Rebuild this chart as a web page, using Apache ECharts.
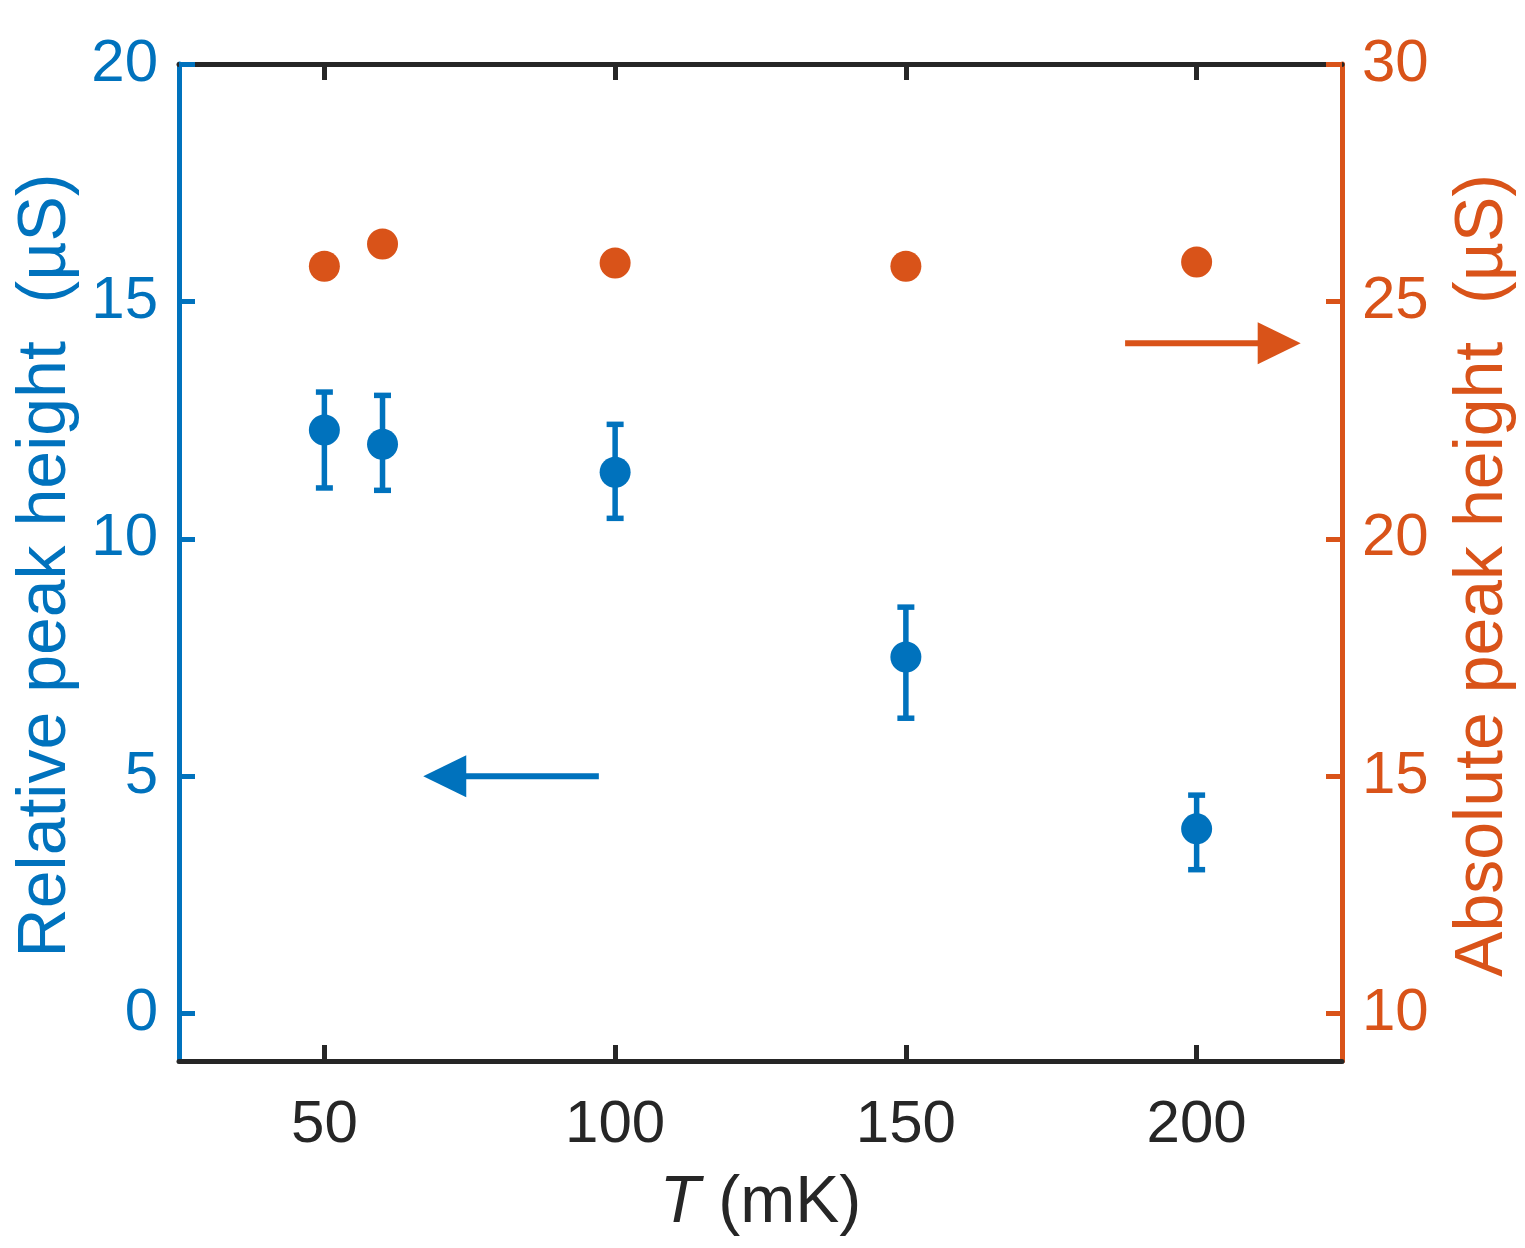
<!DOCTYPE html>
<html>
<head>
<meta charset="utf-8">
<script src="https://cdn.jsdelivr.net/npm/echarts@6/dist/echarts.min.js"></script>
<style>
html,body{margin:0;padding:0;background:#fff;}
#c{width:1525px;height:1248px;}
</style>
</head>
<body>
<div id="c"></div>
<script>
// ---- data ----
const temps = [50, 60, 100, 150, 200];
const relHeight = [12.29, 11.99, 11.40, 7.51, 3.89];
const relUpper = [13.09, 13.02, 12.41, 8.56, 4.60];
const relLower = [11.07, 11.02, 10.43, 6.22, 3.03];
const absHeight = [25.74, 26.21, 25.81, 25.74, 25.83];
const xTicks = [50, 100, 150, 200];
const yLeftTicks = [0, 5, 10, 15, 20];
const yRightTicks = [10, 15, 20, 25, 30];
// arrows: [xFrom, yFrom, xTo, yTo]
const blueArrow = [97.2, 5, 67.0, 5];      // left axis
const orangeArrow = [187.7, 24.12, 217.9, 24.12]; // right axis

const BLUE = '#0072BD', ORANGE = '#D95319', DARK = '#262626';
const FONT = 'Liberation Sans, Arial, Helvetica, sans-serif';

const chart = echarts.init(document.getElementById('c'), null, {renderer: 'canvas'});

function arrowRender(color) {
  return function (params, api) {
    const p1 = api.coord([api.value(0), api.value(1)]);
    const p2 = api.coord([api.value(2), api.value(3)]);
    const dx = p2[0] - p1[0], dy = p2[1] - p1[1];
    const len = Math.sqrt(dx * dx + dy * dy);
    const ux = dx / len, uy = dy / len;
    const headL = 43, headW = 21;
    const bx = p2[0] - ux * headL, by = p2[1] - uy * headL;
    return {
      type: 'group',
      children: [
        {type: 'line', shape: {x1: p1[0], y1: p1[1], x2: bx + ux * 2, y2: by + uy * 2},
         style: {stroke: color, lineWidth: 6}},
        {type: 'polygon', shape: {points: [[p2[0], p2[1]], [bx - uy * headW, by + ux * headW], [bx + uy * headW, by - ux * headW]]},
         style: {fill: color}}
      ]
    };
  };
}

const option = {
  animation: false,
  backgroundColor: '#fff',
  grid: {left: 179, right: 182, top: 64, bottom: 187, containLabel: false},
  xAxis: [
    {
      type: 'value', min: 25, max: 225, position: 'bottom',
      name: '{it|T} (mK)', nameLocation: 'middle', nameGap: 110,
      nameTextStyle: {color: DARK, fontSize: 66, fontFamily: FONT,
        rich: {it: {fontStyle: 'italic', fontSize: 66, fontFamily: FONT, color: DARK}}},
      axisLine: {show: true, onZero: false, lineStyle: {color: DARK, width: 5}},
      axisTick: {show: true, inside: true, length: 16, customValues: xTicks, lineStyle: {color: DARK, width: 5}},
      axisLabel: {show: true, customValues: xTicks, margin: 34, color: DARK, fontSize: 60, fontFamily: FONT},
      splitLine: {show: false}
    },
    {
      type: 'value', min: 25, max: 225, position: 'top',
      axisLine: {show: true, onZero: false, lineStyle: {color: DARK, width: 5}},
      axisTick: {show: true, inside: true, length: 16, customValues: xTicks, lineStyle: {color: DARK, width: 5}},
      axisLabel: {show: false},
      splitLine: {show: false}
    }
  ],
  yAxis: [
    {
      type: 'value', min: -1, max: 20, position: 'left',
      name: 'Relative peak height  (µS)', nameLocation: 'middle', nameGap: 92, nameRotate: 90,
      nameTextStyle: {color: BLUE, fontSize: 68, fontFamily: FONT, padding: [0, 6, 0, 0]},
      axisLine: {show: true, onZero: false, lineStyle: {color: BLUE, width: 5}},
      axisTick: {show: true, inside: true, length: 16, customValues: yLeftTicks, lineStyle: {color: BLUE, width: 5}},
      axisLabel: {show: true, customValues: yLeftTicks, margin: 21, color: BLUE, fontSize: 60, fontFamily: FONT},
      splitLine: {show: false}
    },
    {
      type: 'value', min: 9, max: 30, position: 'right',
      name: 'Absolute peak height  (µS)', nameLocation: 'middle', nameGap: 107, nameRotate: 90,
      nameTextStyle: {color: ORANGE, fontSize: 68, fontFamily: FONT, padding: [0, 26, 0, 0]},
      axisLine: {show: true, onZero: false, lineStyle: {color: ORANGE, width: 5}},
      axisTick: {show: true, inside: true, length: 16, customValues: yRightTicks, lineStyle: {color: ORANGE, width: 5}},
      axisLabel: {show: true, customValues: yRightTicks, margin: 20, color: ORANGE, fontSize: 60, fontFamily: FONT},
      splitLine: {show: false}
    }
  ],
  series: [
    {
      type: 'custom', name: 'err', xAxisIndex: 0, yAxisIndex: 0,
      data: temps.map((t, i) => [t, relLower[i], relUpper[i]]),
      renderItem: function (params, api) {
        const lo = api.coord([api.value(0), api.value(1)]);
        const hi = api.coord([api.value(0), api.value(2)]);
        const cw = 8.5;
        const st = {stroke: BLUE, lineWidth: 5.5};
        return {type: 'group', children: [
          {type: 'line', shape: {x1: lo[0], y1: lo[1], x2: hi[0], y2: hi[1]}, style: st},
          {type: 'line', shape: {x1: lo[0] - cw, y1: lo[1], x2: lo[0] + cw, y2: lo[1]}, style: st},
          {type: 'line', shape: {x1: hi[0] - cw, y1: hi[1], x2: hi[0] + cw, y2: hi[1]}, style: st}
        ]};
      },
      z: 2
    },
    {
      type: 'scatter', name: 'rel', xAxisIndex: 0, yAxisIndex: 0,
      data: temps.map((t, i) => [t, relHeight[i]]),
      symbol: 'circle', symbolSize: 31,
      itemStyle: {color: BLUE, opacity: 1}, z: 3
    },
    {
      type: 'scatter', name: 'abs', xAxisIndex: 0, yAxisIndex: 1,
      data: temps.map((t, i) => [t, absHeight[i]]),
      symbol: 'circle', symbolSize: 31,
      itemStyle: {color: ORANGE, opacity: 1}, z: 3
    },
    {
      type: 'custom', name: 'arrowL', xAxisIndex: 0, yAxisIndex: 0,
      data: [blueArrow], renderItem: arrowRender(BLUE), z: 3
    },
    {
      type: 'custom', name: 'arrowR', xAxisIndex: 0, yAxisIndex: 1,
      data: [orangeArrow], renderItem: arrowRender(ORANGE), z: 3
    }
  ]
};
chart.setOption(option);
</script>
</body>
</html>
